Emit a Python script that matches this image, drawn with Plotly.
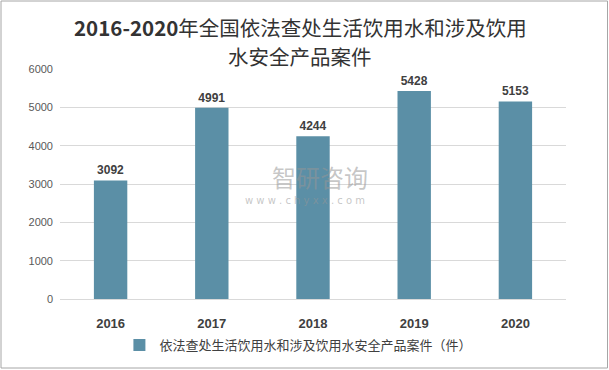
import plotly.graph_objects as go

years = ["2016", "2017", "2018", "2019", "2020"]
cases = [3092, 4991, 4244, 5428, 5153]
series_name = "依法查处生活饮用水和涉及饮用水安全产品案件（件）"
title_line1 = "<b>2016-2020</b>年全国依法查处生活饮用水和涉及饮用"
title_line2 = "水安全产品案件"

W, H = 609, 370
ml, mr, mt, mb = 60, 43, 69, 71
pw, ph = W - ml - mr, H - mt - mb

fig = go.Figure()
fig.add_trace(go.Bar(
    x=years, y=cases, name=series_name,
    marker=dict(color="#5B8FA6", line=dict(width=0)),
    text=[f"<b>{v}</b>" for v in cases], textposition="outside",
    textfont=dict(size=12, color="#404040", family="Liberation Sans, Arial"),
    cliponaxis=False,
))

def px_x(p):
    return (p - ml) / pw

def px_y(p):
    return (H - mb - p) / ph

fig.update_layout(
    width=W, height=H,
    margin=dict(l=ml, r=mr, t=mt, b=mb, autoexpand=False),
    paper_bgcolor="white", plot_bgcolor="white",
    bargap=0.67,
    showlegend=True,
    legend=dict(orientation="h", x=0.49, xanchor="center", xref="container",
                y=25 / H, yanchor="middle", yref="container",
                font=dict(size=13, color="#404040", family="Noto Sans CJK SC"),
                itemsizing="constant", itemwidth=30),
    xaxis=dict(showgrid=False, showline=True, linecolor="#D9D9D9", linewidth=1,
               ticks="", tickfont=dict(size=13, color="#404040", family="Liberation Sans, Arial"),
               tickprefix="<b>", ticksuffix="</b>", ticklabelstandoff=12),
    yaxis=dict(range=[0, 6000], dtick=1000, showgrid=True, gridcolor="#D9D9D9", gridwidth=1,
               zeroline=False, showline=False, ticks="",
               tickfont=dict(size=11, color="#595959", family="Liberation Sans, Arial"),
               ticklabelstandoff=6),
    shapes=[dict(type="rect", xref="paper", yref="paper",
                 x0=px_x(1), x1=px_x(607.5), y0=px_y(1), y1=px_y(368),
                 line=dict(color="#A6A6A6", width=1), fillcolor="rgba(0,0,0,0)", layer="below")],
    annotations=[
        dict(text=title_line1, xref="paper", yref="paper", x=px_x(300), y=px_y(27),
             xanchor="center", yanchor="middle",
             showarrow=False, font=dict(size=20.5, color="#333333", family="Noto Sans CJK SC")),
        dict(text=title_line2, xref="paper", yref="paper", x=px_x(300), y=px_y(56),
             xanchor="center", yanchor="middle",
             showarrow=False, font=dict(size=20.5, color="#333333", family="Noto Sans CJK SC")),
        dict(text="智研咨询", xref="paper", yref="paper", x=px_x(320), y=px_y(176),
             xanchor="center", yanchor="middle",
             showarrow=False, font=dict(size=24, color="rgba(150,150,150,0.55)", family="Noto Sans CJK SC")),
        dict(text="w w w . c h y x x . c o m", xref="paper", yref="paper", x=px_x(305), y=px_y(200),
             xanchor="center", yanchor="middle",
             showarrow=False, font=dict(size=10, color="rgba(150,150,150,0.55)", family="DejaVu Sans")),
    ],
)

fig.write_html("out.html", config={"displayModeBar": False},
               post_script="document.body.style.margin='0';")
